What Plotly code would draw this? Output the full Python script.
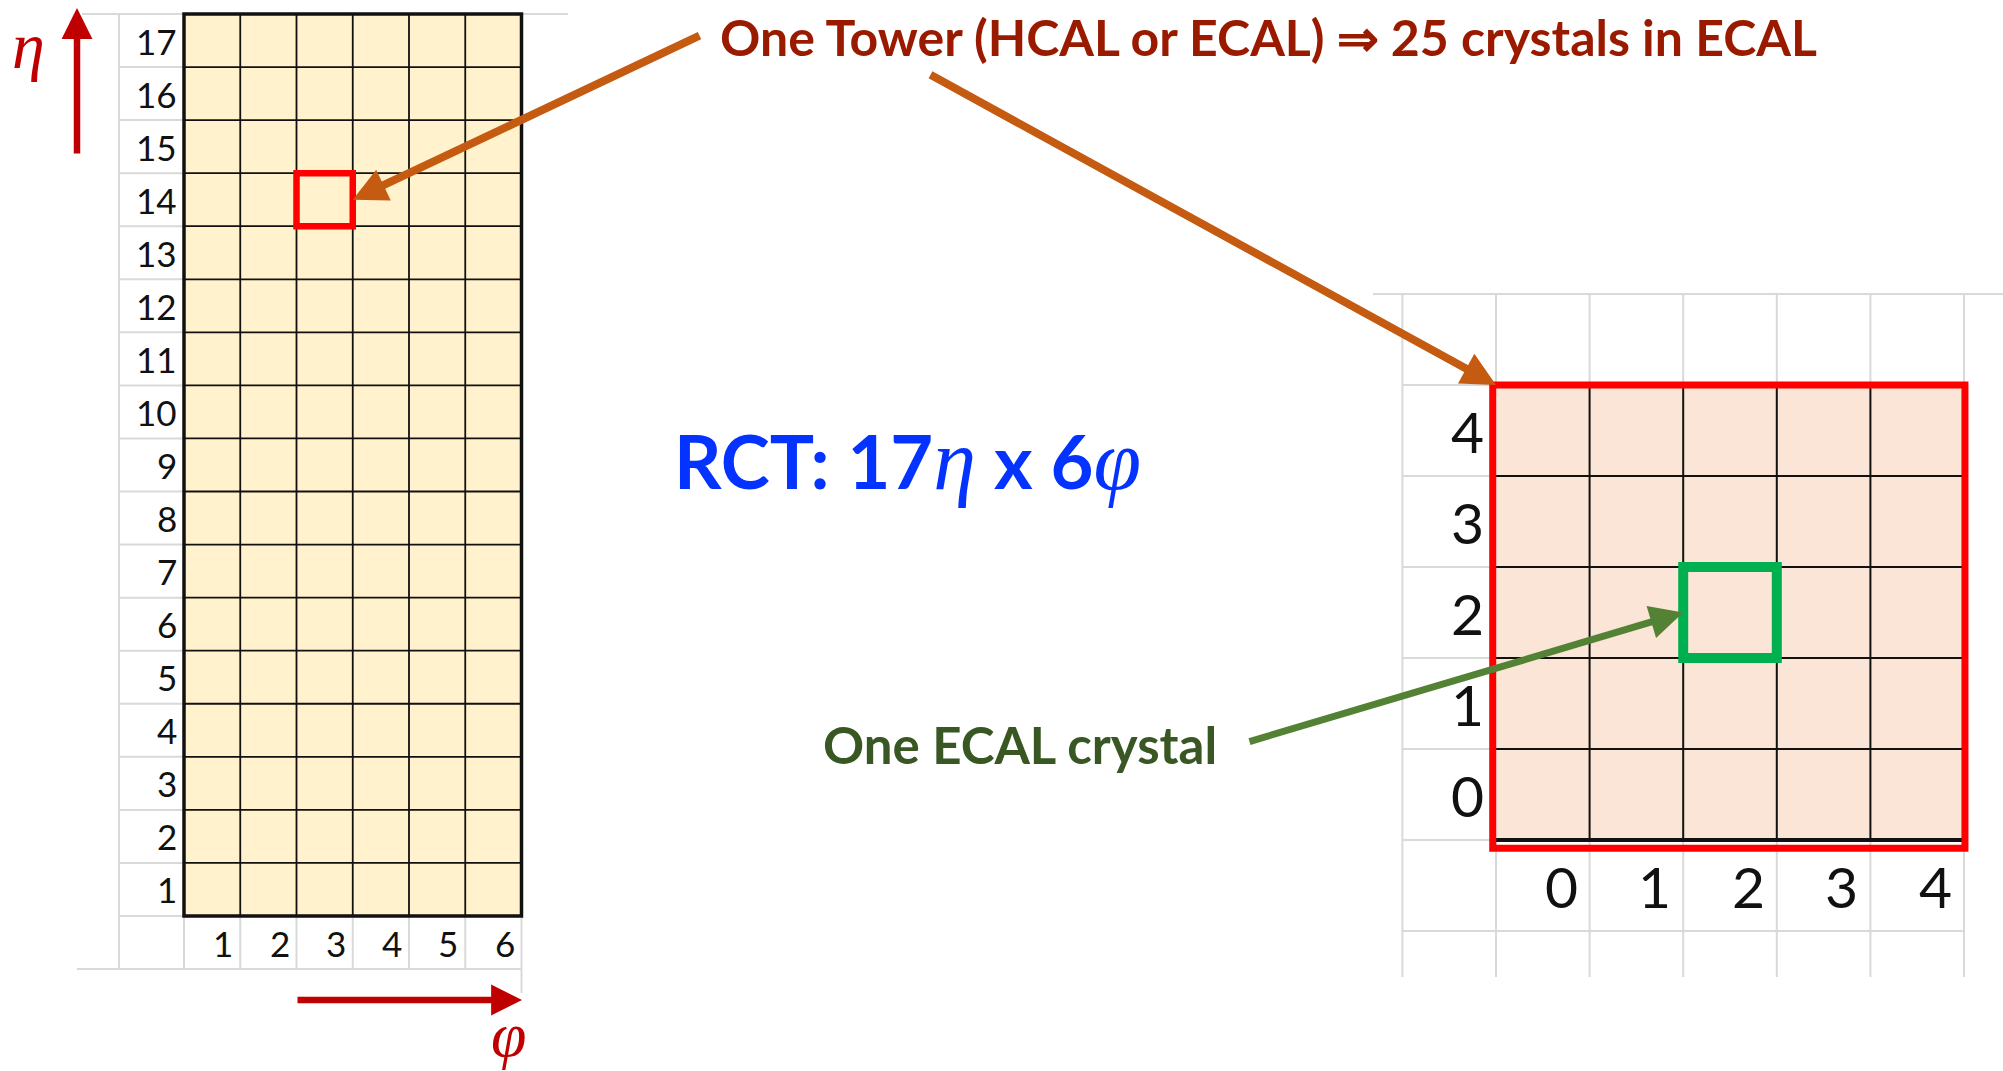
import plotly.graph_objects as go

W, H = 2003, 1071

# ------------------------------------------------------------------ data
eta_towers = list(range(1, 18))          # 17 eta rows of the RCT
phi_towers = list(range(1, 7))           # 6 phi columns of the RCT
crystal_eta = [0, 1, 2, 3, 4]            # 5 crystal rows in one tower
crystal_phi = [0, 1, 2, 3, 4]            # 5 crystal columns in one tower
selected_tower = (3, 14)                 # (phi, eta) of highlighted tower
selected_crystal = (2, 2)                # (phi, eta) of highlighted crystal

title_text = "One Tower (HCAL or ECAL) ⇒ 25 crystals in ECAL"
crystal_text = "One ECAL crystal"
rct_prefix, rct_eta_sym, rct_mid, rct_phi_sym = "RCT: 17", "η", " x 6", "φ"
eta_sym, phi_sym = "η", "φ"

# ------------------------------------------------------------------ styles
TOWER_FILL = "#FFF2CC"
CRYSTAL_FILL = "#FBE5D6"
GREY = "#D9D9D9"
BLACK = "#111111"
RED = "#FF0000"
GREEN_BOX = "#00B050"
ORANGE = "#C55A11"
GREEN_ARROW = "#548235"
DARK_RED = "#C00000"
TITLE_RED = "#9A1A00"
BLUE = "#0433FF"
DARK_GREEN = "#385723"
NUM_FONT = "Lato"
TXT_FONT = "Lato"
SERIF = "Liberation Serif"

# pixel geometry of the two sub-plots (layout only)
L_DOM = (0, 600)
L_XREF, L_XSCALE = 184, 56.25
L_YREF, L_YSCALE = 916, 53.06
R_DOMX = (1360, 2003)
R_DOMY = (260, 1000)
R_XREF, R_XSCALE = 1496, 93.6
R_YREF, R_YSCALE = 840, 91.0


def edges(vals):
    return [v - 0.5 for v in vals] + [vals[-1] + 0.5]


phi_e = edges(phi_towers)
eta_e = edges(eta_towers)
cphi_e = edges(crystal_phi)
ceta_e = edges(crystal_eta)

def lx2p(x): return L_XREF + (x - phi_e[0]) * L_XSCALE
def ly2p(y): return L_YREF - (y - eta_e[0]) * L_YSCALE
def lp2x(p): return phi_e[0] + (p - L_XREF) / L_XSCALE
def lp2y(p): return eta_e[0] - (p - L_YREF) / L_YSCALE
def rx2p(x): return R_XREF + (x - cphi_e[0]) * R_XSCALE
def ry2p(y): return R_YREF - (y - ceta_e[0]) * R_YSCALE
def rp2x(p): return cphi_e[0] + (p - R_XREF) / R_XSCALE
def rp2y(p): return ceta_e[0] - (p - R_YREF) / R_YSCALE


fig = go.Figure()

fig.add_trace(go.Heatmap(
    z=[[1] * len(phi_towers) for _ in eta_towers], x=phi_towers, y=eta_towers,
    colorscale=[[0, TOWER_FILL], [1, TOWER_FILL]], zmin=0, zmax=1,
    showscale=False, hoverinfo="skip", xaxis="x", yaxis="y"))
fig.add_trace(go.Heatmap(
    z=[[1] * len(crystal_phi) for _ in crystal_eta], x=crystal_phi, y=crystal_eta,
    colorscale=[[0, CRYSTAL_FILL], [1, CRYSTAL_FILL]], zmin=0, zmax=1,
    showscale=False, hoverinfo="skip", xaxis="x2", yaxis="y2"))

shapes = []


def line(x0, y0, x1, y1, ax, color, width, layer="above"):
    xr, yr = ("x", "y") if ax == 1 else ("x2", "y2")
    shapes.append(dict(type="line", xref=xr, yref=yr, x0=x0, y0=y0, x1=x1, y1=y1,
                       line=dict(color=color, width=width), layer=layer))


def rect(x0, y0, x1, y1, ax, color, width):
    xr, yr = ("x", "y") if ax == 1 else ("x2", "y2")
    shapes.append(dict(type="rect", xref=xr, yref=yr, x0=x0, y0=y0, x1=x1, y1=y1,
                       line=dict(color=color, width=width), fillcolor="rgba(0,0,0,0)",
                       layer="above"))


# ---- left: spreadsheet grey lines
lab_col = lp2x(119)
line(lab_col, eta_e[0] - 1, lab_col, eta_e[-1], 1, GREY, 2, "below")
for y in eta_e[:-1]:
    line(lab_col, y, phi_e[0], y, 1, GREY, 2, "below")
line(lp2x(82), eta_e[-1], lp2x(568), eta_e[-1], 1, GREY, 2, "below")
line(lp2x(77), eta_e[0] - 1, phi_e[-1], eta_e[0] - 1, 1, GREY, 2, "below")
for x in phi_e[:-1]:
    line(x, eta_e[0] - 1, x, eta_e[0], 1, GREY, 2, "below")
line(phi_e[-1], lp2y(993), phi_e[-1], eta_e[0], 1, GREY, 2, "below")

# ---- left: black tower grid
for x in phi_e[1:-1]:
    line(x, eta_e[0], x, eta_e[-1], 1, BLACK, 1.8)
for y in eta_e[1:-1]:
    line(phi_e[0], y, phi_e[-1], y, 1, BLACK, 1.8)
rect(phi_e[0], eta_e[0], phi_e[-1], eta_e[-1], 1, BLACK, 3.5)
tp, te = selected_tower
rect(tp - 0.5, te - 0.5, tp + 0.5, te + 0.5, 1, RED, 6.5)

# ---- right: spreadsheet grey lines
cx_all = [cphi_e[0] - 1] + cphi_e
cy_all = [ceta_e[0] - 1] + ceta_e + [ceta_e[-1] + 1]
for x in cx_all:
    line(x, rp2y(977), x, cy_all[-1], 2, GREY, 2, "below")
for y in cy_all[:-1]:
    line(cx_all[0], y, cx_all[-1], y, 2, GREY, 2, "below")
line(rp2x(1373), cy_all[-1], rp2x(2003), cy_all[-1], 2, GREY, 2, "below")

# ---- right: black crystal grid
for x in cphi_e[1:-1]:
    line(x, ceta_e[0], x, ceta_e[-1], 2, BLACK, 2)
for y in ceta_e[1:-1]:
    line(cphi_e[0], y, cphi_e[-1], y, 2, BLACK, 2)
line(cphi_e[0], ceta_e[0], cphi_e[-1], ceta_e[0], 2, BLACK, 4)
rect(cphi_e[0] - 0.035, ceta_e[0] - 0.09, cphi_e[-1] + 0.01, ceta_e[-1], 2, RED, 7)
sp, se = selected_crystal
rect(sp - 0.5, se - 0.5, sp + 0.5, se + 0.5, 2, GREEN_BOX, 10)

fig.update_layout(shapes=shapes)

ann = []
for e in eta_towers:
    ann.append(dict(x=phi_e[0], y=e, xref="x", yref="y", text=str(e), showarrow=False,
                    xanchor="right", yanchor="middle", xshift=-5,
                    font=dict(family=NUM_FONT, size=35, color="#111")))
for p in phi_towers:
    ann.append(dict(x=p + 0.5, y=eta_towers[0] - 1, xref="x", yref="y", text=str(p),
                    showarrow=False, xanchor="right", yanchor="middle", xshift=-5,
                    font=dict(family=NUM_FONT, size=35, color="#111")))
for e in crystal_eta:
    ann.append(dict(x=cphi_e[0], y=e, xref="x2", yref="y2", text=str(e), showarrow=False,
                    xanchor="right", yanchor="middle", xshift=-10,
                    font=dict(family=NUM_FONT, size=57, color="#111")))
for p in crystal_phi:
    ann.append(dict(x=p + 0.5, y=crystal_eta[0] - 1, xref="x2", yref="y2", text=str(p),
                    showarrow=False, xanchor="right", yanchor="middle", xshift=-10,
                    font=dict(family=NUM_FONT, size=57, color="#111")))

ann.append(dict(x=718 / W, y=1 - 37 / H, xref="paper", yref="paper", text=title_text,
                showarrow=False, xanchor="left", yanchor="middle",
                font=dict(family=TXT_FONT, size=50, color=TITLE_RED, weight="bold")))
sym_style = "font-family:%s;font-weight:normal;font-size:86px" % SERIF
rct_html = ("%s<span style=\"%s\"><i>%s</i></span>%s<span style=\"%s\"><i>%s</i></span>"
            % (rct_prefix, sym_style, rct_eta_sym, rct_mid, sym_style, rct_phi_sym))
ann.append(dict(x=672 / W, y=1 - 460 / H, xref="paper", yref="paper", text=rct_html,
                showarrow=False, xanchor="left", yanchor="middle",
                font=dict(family=TXT_FONT, size=74, color=BLUE, weight="bold")))
ann.append(dict(x=821 / W, y=1 - 744 / H, xref="paper", yref="paper", text=crystal_text,
                showarrow=False, xanchor="left", yanchor="middle",
                font=dict(family=TXT_FONT, size=51, color=DARK_GREEN, weight="bold")))
ann.append(dict(x=28 / W, y=1 - 46 / H, xref="paper", yref="paper",
                text="<i>%s</i>" % eta_sym, showarrow=False,
                xanchor="center", yanchor="middle",
                font=dict(family=SERIF, size=66, color=DARK_RED)))
ann.append(dict(x=508 / W, y=0, xref="paper", yref="paper",
                text="<i>%s</i>" % phi_sym, showarrow=False,
                xanchor="center", yanchor="bottom", borderpad=0,
                font=dict(family=SERIF, size=64, color=DARK_RED)))


def arrow(x, y, xref, yref, hx_px, hy_px, tx_px, ty_px, color, width, size=1.0):
    ann.append(dict(x=x, y=y, xref=xref, yref=yref, text="", showarrow=True,
                    ax=tx_px - hx_px, ay=ty_px - hy_px, axref="pixel", ayref="pixel",
                    arrowhead=2, arrowsize=size, arrowwidth=width, arrowcolor=color,
                    standoff=0, startstandoff=0))

hx, hy = tp + 0.5, te
arrow(hx, hy, "x", "y", lx2p(hx), ly2p(hy), 701, 35, ORANGE, 8, 0.85)
hx, hy = cphi_e[0], ceta_e[-1]
arrow(hx, hy, "x2", "y2", rx2p(hx), ry2p(hy), 929, 74, ORANGE, 8, 0.85)
hx, hy = sp - 0.5, se
arrow(hx, hy, "x2", "y2", rx2p(hx), ry2p(hy), 1248, 742, GREEN_ARROW, 7, 0.95)
arrow(77 / W, 1 - 8 / H, "paper", "paper", 77, 8, 77, 155, DARK_RED, 6.5, 0.95)
arrow(522 / W, 1 - 1000 / H, "paper", "paper", 522, 1000, 296, 1000, DARK_RED, 6.5, 0.95)

fig.update_layout(annotations=ann)

ax_common = dict(visible=False, showgrid=False, zeroline=False, fixedrange=True)
fig.update_layout(
    width=W, height=H, margin=dict(l=0, r=0, t=0, b=0),
    paper_bgcolor="white", plot_bgcolor="rgba(0,0,0,0)", showlegend=False,
    xaxis=dict(domain=[L_DOM[0] / W, L_DOM[1] / W], range=[lp2x(L_DOM[0]), lp2x(L_DOM[1])],
               anchor="y", **ax_common),
    yaxis=dict(domain=[0, 1], range=[lp2y(H), lp2y(0)], anchor="x", **ax_common),
    xaxis2=dict(domain=[R_DOMX[0] / W, R_DOMX[1] / W],
                range=[rp2x(R_DOMX[0]), rp2x(R_DOMX[1])], anchor="y2", **ax_common),
    yaxis2=dict(domain=[1 - R_DOMY[1] / H, 1 - R_DOMY[0] / H],
                range=[rp2y(R_DOMY[1]), rp2y(R_DOMY[0])], anchor="x2", **ax_common),
)

fig.write_html("out.html", config={"displayModeBar": False, "staticPlot": True},
               post_script="document.body.style.margin='0';document.body.style.overflow='hidden';")
